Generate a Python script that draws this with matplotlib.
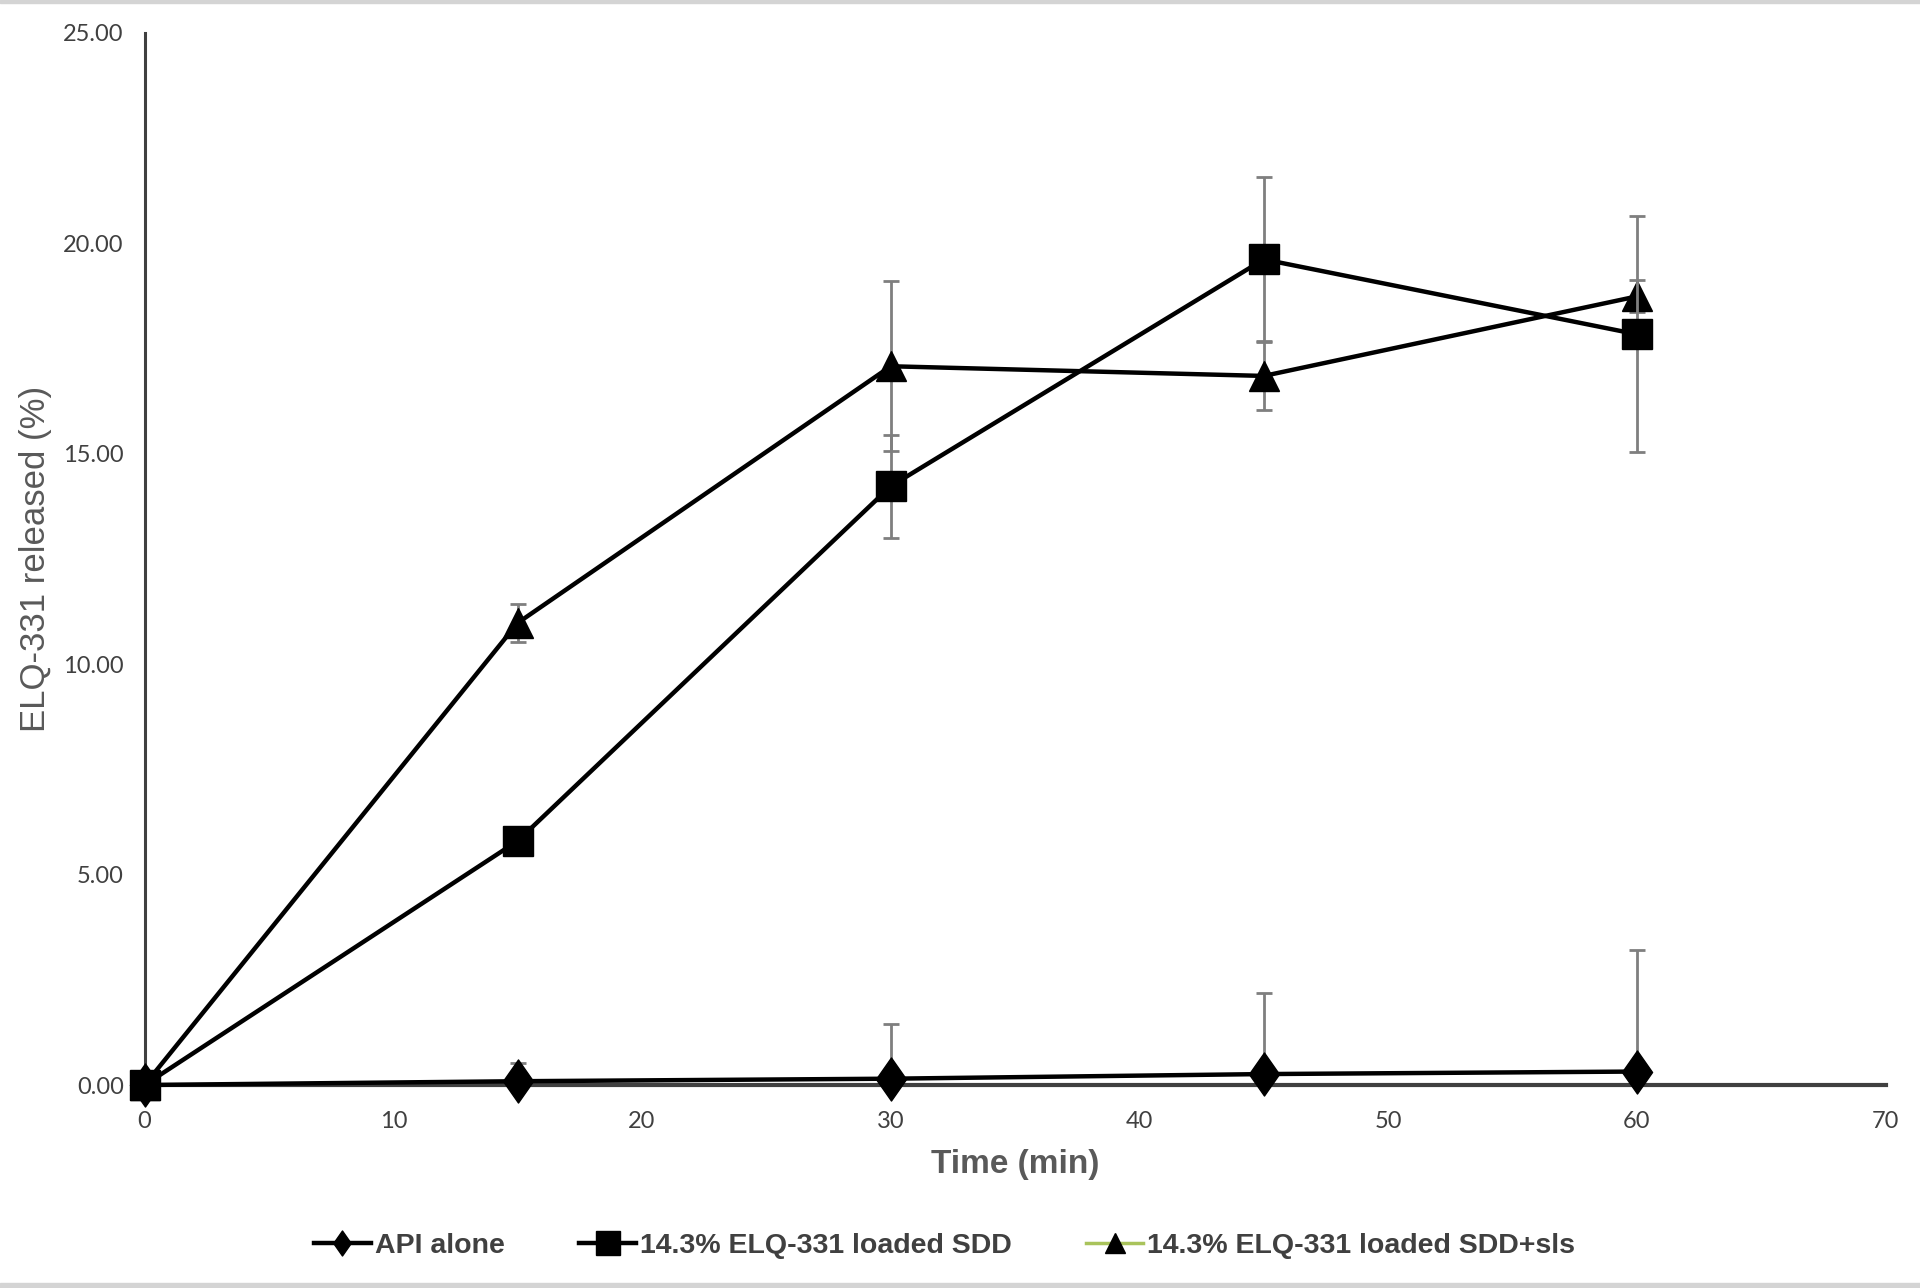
import matplotlib
matplotlib.use("Agg")
import matplotlib.pyplot as plt
from matplotlib.lines import Line2D
from matplotlib.path import Path
from matplotlib.patches import Rectangle

# ---- data ----
time_min = [0, 15, 30, 45, 60]
api_alone = [0.00, 0.09, 0.15, 0.26, 0.32]
api_alone_err = [0.00, 0.43, 1.30, 1.92, 2.88]
sdd = [0.00, 5.80, 14.23, 19.62, 17.84]
sdd_err = [0.00, 0.20, 1.22, 1.95, 2.80]
sdd_sls = [0.00, 10.98, 17.08, 16.85, 18.74]
sdd_sls_err = [0.00, 0.45, 2.02, 0.80, 0.38]

series_labels = ["API alone", "14.3% ELQ-331 loaded SDD", "14.3% ELQ-331 loaded SDD+sls"]
x_ticks = [0, 10, 20, 30, 40, 50, 60, 70]
y_ticks = [0, 5, 10, 15, 20, 25]

# ---- figure ----
fig = plt.figure(figsize=(19.2, 12.88), dpi=100)
ax = fig.add_axes([0.0753, 0.1576, 0.9068, 0.8168])

diamond = Path([(0, 1), (0.70, 0), (0, -1), (-0.70, 0), (0, 1)],
               [Path.MOVETO, Path.LINETO, Path.LINETO, Path.LINETO, Path.CLOSEPOLY])

ecol = "#7f7f7f"
common = dict(color="black", lw=3.2, ecolor=ecol, elinewidth=2.0, capsize=6,
              capthick=2.0, mfc="black", mec="black")

conts = [
    ax.errorbar(time_min, api_alone, yerr=api_alone_err, marker=diamond, ms=31, zorder=3, **common),
    ax.errorbar(time_min, sdd_sls, yerr=sdd_sls_err, marker="^", ms=22, zorder=4, **common),
    ax.errorbar(time_min, sdd, yerr=sdd_err, marker="s", ms=22, zorder=5, **common),
]
for c in conts:
    c.lines[0].set_clip_on(False)

ax.set_xlim(0, 70)
ax.set_ylim(0, 25)
ax.set_xticks(x_ticks)
ax.set_yticks(y_ticks)
ax.set_xticklabels([str(t) for t in x_ticks])
ax.set_yticklabels([f"{t:.2f}" for t in y_ticks])
ax.tick_params(length=0, labelsize=17, labelcolor="#404040")
ax.tick_params(axis="y", pad=15)
ax.tick_params(axis="x", pad=19)
for lab in ax.get_xticklabels() + ax.get_yticklabels():
    lab.set_fontfamily("Lato")

for s in ["top", "right"]:
    ax.spines[s].set_visible(False)
ax.spines["left"].set_color("#404040")
ax.spines["left"].set_linewidth(2.2)
ax.spines["bottom"].set_color("#404040")
ax.spines["bottom"].set_linewidth(3)

ax.set_xlabel("Time (min)", fontsize=24, fontweight="bold", color="#595959",
              family="Liberation Sans", labelpad=12)
ax.set_ylabel("ELQ-331 released (%)", fontsize=25, color="#595959",
              family="Liberation Sans", labelpad=8)

# legend
handles = [
    Line2D([], [], color="black", lw=3.2, marker=diamond, ms=18, mfc="black", mec="black"),
    Line2D([], [], color="black", lw=3.2, marker="s", ms=17, mfc="black", mec="black"),
    Line2D([], [], color="#A9C35B", lw=2.5, marker="^", ms=15, mfc="black", mec="black"),
]
fig.legend(handles, series_labels, loc="center", bbox_to_anchor=(0.492, 0.0325), ncol=3,
           frameon=False, handlelength=2.0, handletextpad=0.15, columnspacing=2.6,
           prop={"family": "Liberation Sans", "weight": "bold", "size": 20.5})
for t in fig.legends[0].get_texts():
    t.set_color("#404040")

# light grey frame edges (top and bottom)
fig.patches.append(Rectangle((0, 0.9975), 1, 0.0025, transform=fig.transFigure,
                             color="#d4d4d4", zorder=0))
fig.patches.append(Rectangle((0, 0), 1, 0.0035, transform=fig.transFigure,
                             color="#d4d4d4", zorder=0))

fig.savefig("out.png", dpi=100)
